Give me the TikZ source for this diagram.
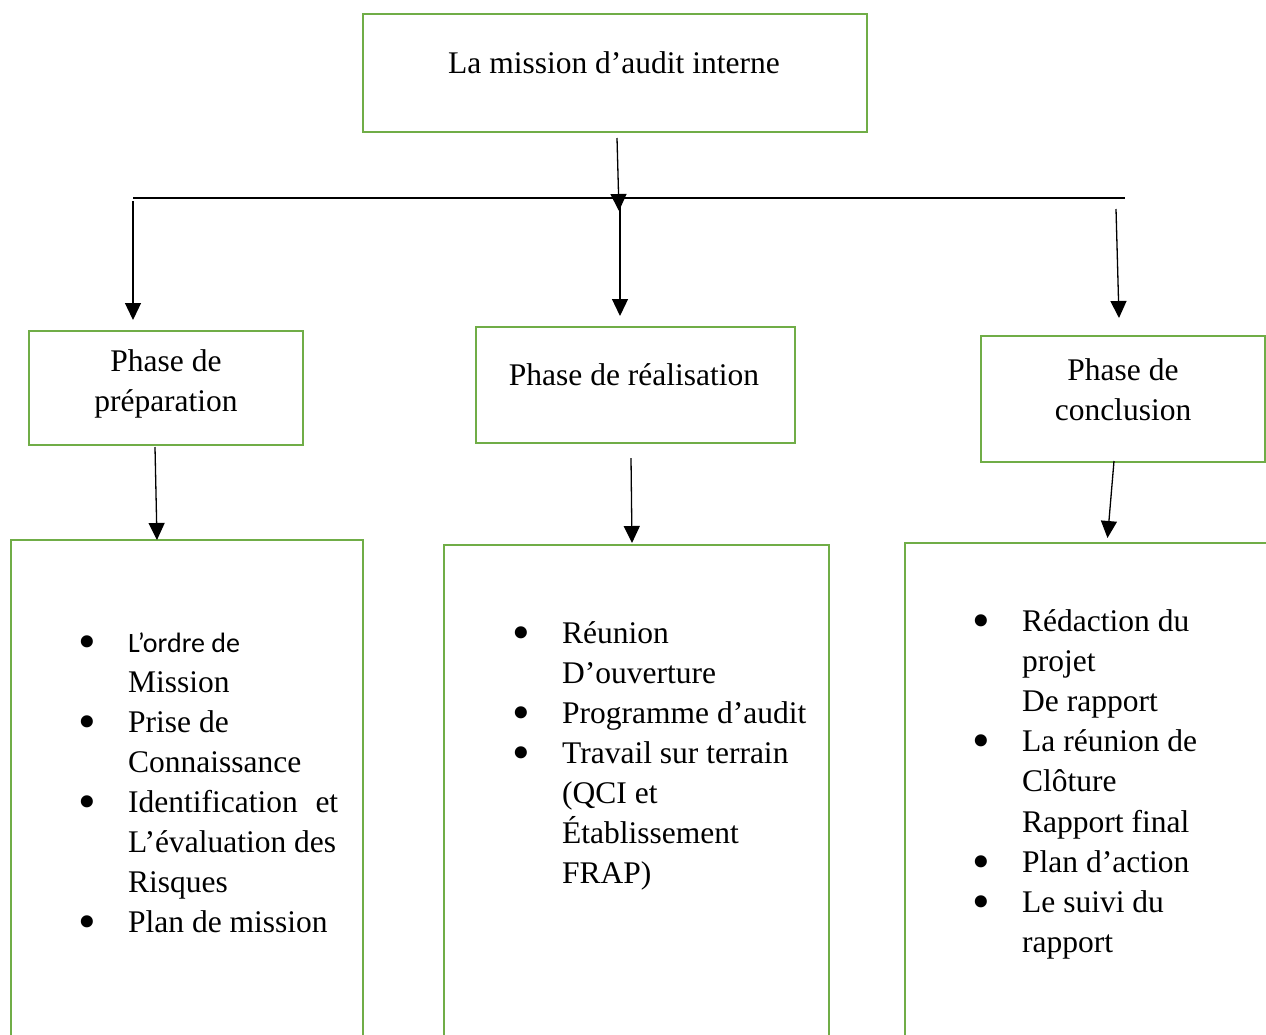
\documentclass[tikz,border=0pt]{standalone}
\usepackage{fontspec}
\usepackage{graphicx}
\setmainfont{Liberation Serif}
\newfontfamily\calibrifont{Carlito}
\usetikzlibrary{arrows.meta,calc}
\definecolor{boxgreen}{HTML}{70AD47}
% enlarged bullet hung to the left of the item text
\newcommand\bul{\llap{\smash{\raisebox{-6pt}{\scalebox{1.6}{\textbullet}}}\hspace{32.5pt}}}

\begin{document}
\begin{tikzpicture}[x=1pt,y=-1pt,
  box/.style={draw=boxgreen, line width=2.8pt, inner sep=0pt, outer sep=0pt, anchor=north west},
  txt/.style={inner sep=0pt, anchor=base, font=\fontsize{31.5}{40}\selectfont},
  list/.style={inner sep=0pt, anchor=base west, font=\fontsize{31.5}{40.1}\selectfont},
  link/.style={draw=black, line width=1.3pt, -{Triangle[width=16pt,length=17pt]}},
  bar/.style={draw=black, line width=1.3pt},
]
\useasboundingbox (0,0) rectangle (1266,1034);
\clip (0,0) rectangle (1266,1034);

% boxes
\node[box, minimum width=504pt, minimum height=118pt] (mission) at (363,14) {};
\node[box, minimum width=274pt, minimum height=114pt] (prep) at (29,331) {};
\node[box, minimum width=319pt, minimum height=116pt] (real) at (476,327) {};
\node[box, minimum width=284pt, minimum height=126pt] (concl) at (981,336) {};
\node[box, minimum width=352pt, minimum height=560pt] (prepl) at (11,540) {};
\node[box, minimum width=385pt, minimum height=560pt] (reall) at (444,545) {};
\node[box, minimum width=420pt, minimum height=560pt] (concll) at (905,543) {};

% box titles
\node[txt] (missiontxt) at (614,73) {La mission d’audit interne};
\node[txt] (preptxt) at (166,371) {\begin{tabular}[t]{@{}c@{}}Phase de\\préparation\end{tabular}};
\node[txt] (realtxt) at (634,385) {Phase de réalisation};
\node[txt] (concltxt) at (1123,380) {\begin{tabular}[t]{@{}c@{}}Phase de\\conclusion\end{tabular}};

% item lists
\node[list] (preplist) at (128,652) {\begin{tabular}[t]{@{}l@{}}
\bul{\calibrifont\fontsize{28}{40.1}\selectfont L’ordre de}\\
Mission\\
\bul Prise de\\
Connaissance\\
\bul\makebox[210pt][s]{Identification et}\\
L’évaluation des\\
Risques\\
\bul Plan de mission
\end{tabular}};

\node[list] (reallist) at (562,643) {\begin{tabular}[t]{@{}l@{}}
\bul Réunion\\
D’ouverture\\
\bul Programme d’audit\\
\bul Travail sur terrain\\
(QCI et\\
Établissement\\
FRAP)
\end{tabular}};

\node[list] (concllist) at (1022,631.5) {\begin{tabular}[t]{@{}l@{}}
\bul Rédaction du\\
projet\\
De rapport\\
\bul La réunion de\\
Clôture\\
Rapport final\\
\bul Plan d’action\\
\bul Le suivi du\\
rapport
\end{tabular}};

% distribution bar
\coordinate (barL) at (133,198);
\coordinate (barR) at (1125,198);
\draw[bar] (barL) -- (barR);

% connectors
\draw[link] ($(mission.south)+(2,6)$) -- ($(mission.south)+(4,79)$);
\draw[link] ($(barL)+(0,3)$) -- ($(barL)+(0,122)$);
\draw[link] ($(real.north)+(-15.5,-122)$) -- ($(real.north)+(-15.5,-11)$);
\draw[link] ($(concl.north)+(-7,-127)$) -- ($(concl.north)+(-4,-18)$);
\draw[link] ($(prep.south)+(-11,2)$) -- ($(prepl.north)+(-30,0)$);
\draw[link] ($(real.south)+(-4.5,15)$) -- ($(reall.north)+(-4.5,-2)$);
\draw[link] ($(concl.south)+(-9,-1)$) -- ($(concll.north)+(-7.5,-5)$);
\end{tikzpicture}
\end{document}
